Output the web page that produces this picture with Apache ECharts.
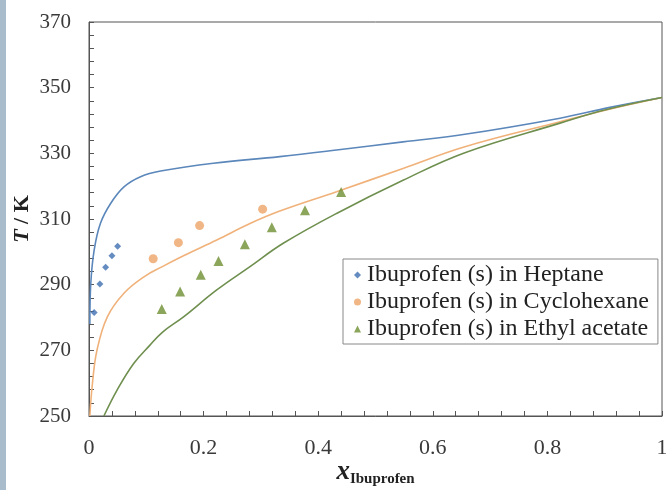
<!DOCTYPE html>
<html>
<head>
<meta charset="utf-8">
<script src="https://cdn.jsdelivr.net/npm/echarts@6/dist/echarts.min.js"></script>
<style>
  html, body { margin: 0; padding: 0; background: #fff; }
  #chart { width: 666px; height: 490px; }
</style>
</head>
<body>
<div id="chart"></div>
<script>
// experimental points [x, T]
const heptanePts = [[0.009, 281.5], [0.019, 290.2], [0.029, 295.3], [0.040, 298.8], [0.050, 301.7]];
const cyclohexanePts = [[0.112, 297.9], [0.156, 302.8], [0.193, 308.0], [0.303, 313.0]];
const ethylAcetatePts = [[0.127, 282.6], [0.159, 287.9], [0.195, 293.0], [0.226, 297.2],
  [0.272, 302.3], [0.319, 307.5], [0.377, 312.7], [0.440, 318.2]];

// model curves
const heptaneCurve = [[0.0015, 278], [0.003, 290], [0.009, 300.5], [0.02, 308.7], [0.038, 314.8],
  [0.061, 319.8], [0.090, 322.9], [0.125, 324.6], [0.217, 327], [0.333, 329], [0.432, 331],
  [0.548, 333.5], [0.656, 335.8], [0.822, 340.7], [0.909, 344.0], [1.0, 347]];
const cyclohexaneCurve = [[0.0015, 250], [0.006, 259.9], [0.014, 270.1], [0.032, 280.2], [0.061, 287.4],
  [0.096, 292.4], [0.128, 295.5], [0.165, 298.8], [0.223, 303.6], [0.281, 308.6], [0.333, 312.4],
  [0.432, 318.3], [0.548, 325.4], [0.656, 332], [0.822, 339.6], [0.91, 343.5], [1.0, 347]];
const ethylAcetateCurve = [[0.026, 250], [0.049, 257.9], [0.078, 266], [0.106, 271.5], [0.128, 275.5],
  [0.165, 280.2], [0.223, 288.4], [0.281, 295.5], [0.339, 302.6], [0.432, 311.7], [0.548, 321.8],
  [0.656, 330.2], [0.822, 339.2], [0.9, 343.2], [1.0, 347]];

const seriesNames = ['Ibuprofen (s) in Heptane', 'Ibuprofen (s) in Cyclohexane', 'Ibuprofen (s) in Ethyl acetate'];

const serif = '"Liberation Serif", "DejaVu Serif", serif';
const axisColor = '#555';

const chart = echarts.init(document.getElementById('chart'));

function curve(data, color) {
  return {
    type: 'line',
    data: data,
    smooth: 0.4,
    showSymbol: false,
    silent: true,
    lineStyle: { color: color, width: 1.6 },
    z: 1
  };
}

const option = {
  backgroundColor: '#fff',
  animation: false,
  graphic: [{
    type: 'rect',
    shape: { x: 0, y: 0, width: 6, height: 490 },
    style: { fill: '#a9bccb' }
  }],
  grid: {
    left: 89, right: 4, top: 22, bottom: 74,
    outerBoundsMode: 'none',
    containLabel: false,
    show: true,
    borderColor: axisColor,
    borderWidth: 1
  },
  legend: {
    orient: 'vertical',
    left: 343,
    top: 259,
    padding: [4, 9, 3, 11],
    borderColor: '#888',
    borderWidth: 1,
    backgroundColor: '#fff',
    itemWidth: 7,
    itemHeight: 7,
    itemGap: 3,
    textStyle: { fontFamily: serif, fontSize: 24, color: '#222', lineHeight: 24, padding: [0, 0, 0, 1] },
    data: [
      { name: seriesNames[0], icon: 'diamond' },
      { name: seriesNames[1], icon: 'circle' },
      { name: seriesNames[2], icon: 'triangle' }
    ]
  },
  xAxis: {
    type: 'value',
    min: 0,
    max: 1,
    interval: 0.2,
    name: '{x|x}{sub|Ibuprofen}',
    nameLocation: 'middle',
    nameGap: 42,
    nameMoveOverlap: false,
    nameTextStyle: {
      rich: {
        x: { fontFamily: serif, fontSize: 27, fontWeight: 'bold', fontStyle: 'italic', color: '#222' },
        sub: { fontFamily: serif, fontSize: 15, fontWeight: 'bold', color: '#222', padding: [14, 0, 0, 0] }
      }
    },
    axisLine: { lineStyle: { color: axisColor } },
    axisTick: { inside: true, length: 5, lineStyle: { color: axisColor } },
    minorTick: { show: true, splitNumber: 5, length: 5, lineStyle: { color: axisColor } },
    splitLine: { show: false },
    axisLabel: { fontFamily: serif, fontSize: 22, color: '#3a3a3a', margin: 21 }
  },
  yAxis: {
    type: 'value',
    min: 250,
    max: 370,
    interval: 20,
    name: '{t|T}{k| / K}',
    nameLocation: 'middle',
    nameRotate: 90,
    nameGap: 56,
    nameMoveOverlap: false,
    nameTextStyle: {
      rich: {
        t: { fontFamily: serif, fontSize: 22, fontWeight: 'bold', fontStyle: 'italic', color: '#222' },
        k: { fontFamily: serif, fontSize: 22, fontWeight: 'bold', color: '#222' }
      }
    },
    axisLine: { show: true, lineStyle: { color: axisColor } },
    axisTick: { show: true, inside: true, length: 5, lineStyle: { color: axisColor } },
    minorTick: { show: true, splitNumber: 5, length: 5, lineStyle: { color: axisColor } },
    splitLine: { show: false },
    axisLabel: { fontFamily: serif, fontSize: 21, color: '#3a3a3a', margin: 18 }
  },
  series: [
    curve(heptaneCurve, '#5b87bb'),
    curve(cyclohexaneCurve, '#f0b27a'),
    curve(ethylAcetateCurve, '#6f8f4f'),
    {
      name: seriesNames[0],
      type: 'scatter',
      data: heptanePts,
      symbol: 'diamond',
      symbolSize: 7,
      itemStyle: { color: '#3f6fb0' },
      z: 3
    },
    {
      name: seriesNames[1],
      type: 'scatter',
      data: cyclohexanePts,
      symbol: 'circle',
      symbolSize: 9,
      itemStyle: { color: '#eea466' },
      z: 3
    },
    {
      name: seriesNames[2],
      type: 'scatter',
      data: ethylAcetatePts,
      symbol: 'triangle',
      symbolSize: 10,
      itemStyle: { color: '#6e8f32' },
      z: 3
    }
  ]
};

chart.setOption(option);
</script>
</body>
</html>
